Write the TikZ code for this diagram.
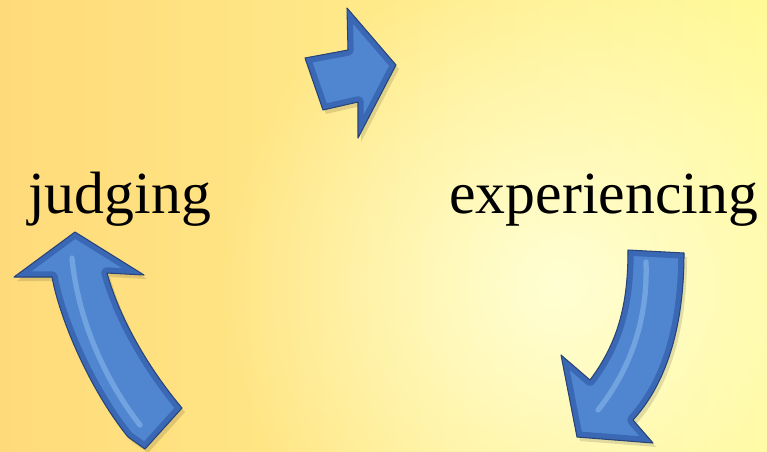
\documentclass[tikz,border=0pt]{standalone}
\usepackage{fontspec}
\setmainfont{Liberation Serif}
\usetikzlibrary{fadings}

\definecolor{bgorange}{RGB}{255,218,122}
\definecolor{bgyellow}{RGB}{255,250,152}
\definecolor{bgglow}{RGB}{255,255,212}
\definecolor{arrowface}{RGB}{80,134,208}
\definecolor{arrowbevel}{RGB}{58,104,180}
\definecolor{arrowedge}{RGB}{40,68,120}
\definecolor{arrowshine}{RGB}{140,188,236}

\tikzfading[name=glowfade, inner color=transparent!0, outer color=transparent!100]

\tikzset{
  word/.style={font=\fontsize{34}{40}\selectfont, text=black, inner sep=0pt, anchor=base west},
  shine/.style={arrowshine, line width=3pt, line cap=round, opacity=0.55}
}

% one bevelled arrow: shadow, face, inner band, outline
\newcommand\bevelarrow[1]{%
  \fill[black, opacity=0.12, shift={(3,4)}] #1;
  \fill[arrowface] #1;
  \begin{scope}
    \clip #1;
    \draw[arrowbevel, line width=6.5pt, line join=round] #1;
  \end{scope}
  \draw[arrowedge, line width=0.6pt, line join=round] #1;
}

\begin{document}
\begin{tikzpicture}[x=0.02cm, y=-0.02cm]
    \useasboundingbox (0,0) rectangle (767,451);

    % Background
    \shade[left color=bgorange, right color=bgyellow] (0,0) rectangle (767,451);
    \fill[bgglow, path fading=glowfade] (560,285) circle (340);

    % Top arrow (pointing right)
    \bevelarrow{(305,58) -- (348,50) -- (347,8) -- (396,65) -- (358,138) -- (358,102) -- (323,110) -- cycle}

    % Right arrow (curving down to the left)
    \bevelarrow{(628,250) -- (684,253) .. controls (684,330) and (665,385) .. (633,420) -- (653,443) -- (577,437) -- (561,355) -- (590,380) .. controls (620,340) and (628,300) .. cycle}
    \draw[shine] (646,262) .. controls (648,320) and (630,370) .. (598,410);

    % Left arrow (curving up)
    \bevelarrow{(75,232) -- (144,275) -- (107,273) .. controls (120,320) and (150,370) .. (182,408) -- (145,449) -- (128,437) .. controls (90,390) and (60,320) .. (52,277) -- (14,277) -- cycle}
    \draw[shine] (72,258) .. controls (78,320) and (105,380) .. (140,425);

    % Labels
    \node[word] (judging) at (28,213) {judging};
    \node[word] (experiencing) at (449,213) {experiencing};
\end{tikzpicture}
\end{document}
